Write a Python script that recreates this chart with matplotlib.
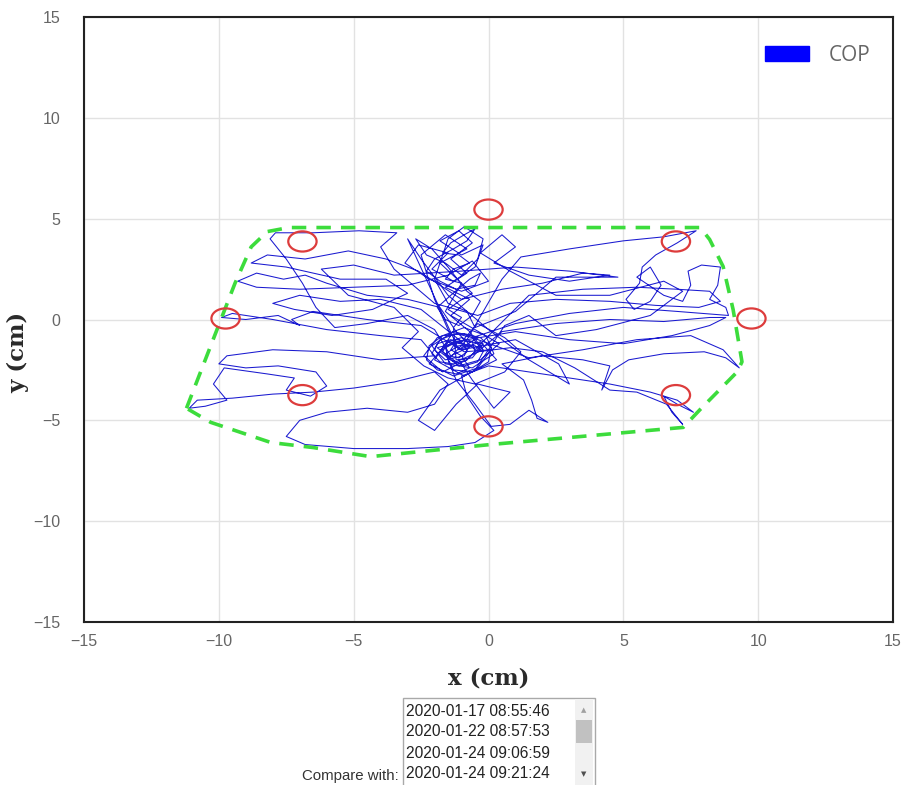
import matplotlib
matplotlib.use("Agg")
import matplotlib.pyplot as plt
from matplotlib.patches import Ellipse, Patch, Rectangle

# centre-of-pressure trace (cm)
cop_trace = [
    (-1.0, -1.4), (-0.4, -0.9), (-1.3, -0.6), (-2.1, -1.3), (-1.6, -2.2), (-0.6, -2.4), (0.2, -1.7), (-0.1, -0.8),
    (-0.9, -0.4), (-1.9, -0.9), (-2.4, -1.8), (-1.7, -2.6), (-0.8, -2.0), (-0.2, -1.2), (-1.2, -1.0), (-1.8, -1.6),
    (-1.1, -2.3), (-0.3, -2.0), (0.4, -1.2), (-0.5, -0.5),
    (-1.4, 0.2), (-0.7, 1.0), (-1.6, 1.6), (-0.8, 2.3), (-1.4, 3.0), (-0.6, 3.8), (-1.1, 4.4), (-1.8, 3.9),
    (-1.0, 3.2), (-0.2, 3.7), (-0.5, 2.6), (-1.3, 1.9), (-2.1, 2.5), (-1.5, 3.3), (-2.6, 3.7), (-3.1, 2.8),
    (-2.2, 2.0), (-1.0, 1.4), (0.0, 1.9), (-0.6, 2.9), (-1.5, 2.2),
    (-3.0, 1.7), (-5.0, 1.6), (-7.0, 1.5), (-8.6, 1.6), (-9.3, 1.9), (-8.6, 2.3), (-7.6, 2.0), (-6.8, 2.2),
    (-6.0, 1.8), (-4.5, 1.2), (-3.0, 1.0), (-1.8, 0.6),
    (-1.2, -0.6), (-0.5, -1.5), (0.3, -0.4), (1.5, 1.2), (3.5, 1.5), (5.5, 1.6), (7.0, 1.5), (8.2, 1.4),
    (8.6, 0.9), (7.8, 0.6), (6.2, 0.7), (4.5, 0.9), (2.5, 1.0), (0.8, 0.8), (-0.4, 0.2),
    (-2.0, 0.8), (-3.5, 2.5), (-4.0, 3.6), (-3.4, 4.3), (-4.8, 4.4), (-6.5, 4.3), (-7.9, 4.3), (-8.1, 4.0),
    (-7.5, 3.0), (-6.9, 1.8), (-6.4, 0.6), (-5.7, -0.4), (-4.5, -0.2), (-3.0, 0.2), (-2.0, -0.5),
    (-1.4, -1.8), (-0.6, -1.3), (-1.5, -1.1), (-2.2, -2.2), (-1.3, -2.8), (-0.4, -2.4), (0.1, -1.5), (-0.9, -1.6),
    (-2.5, -0.3), (-4.5, 0.0), (-6.5, 0.4), (-7.3, 0.0), (-7.0, -0.3), (-7.8, 0.2), (-9.0, 0.0), (-9.9, 0.1),
    (-9.5, 0.3), (-8.0, 0.0), (-6.0, -0.5), (-4.0, -0.8), (-2.5, -1.0),
    (-2.0, -1.8), (-4.0, -2.0), (-6.0, -1.6), (-8.0, -1.5), (-9.7, -1.8), (-10.0, -2.2), (-9.0, -2.4), (-7.8, -2.3),
    (-6.4, -2.6), (-6.0, -3.3), (-6.6, -3.8), (-7.5, -3.5), (-7.2, -2.9), (-8.2, -2.7), (-9.8, -2.4), (-10.2, -3.2),
    (-9.7, -4.0), (-10.5, -4.3), (-11.1, -4.4), (-10.8, -4.0), (-9.5, -3.9), (-8.0, -3.7), (-6.5, -3.6), (-5.0, -3.4),
    (-3.5, -3.1), (-2.0, -2.6),
    (-1.5, -3.2), (-2.0, -4.2), (-3.0, -4.6), (-4.5, -4.4), (-6.0, -4.6), (-7.0, -5.0), (-7.5, -5.8), (-6.8, -6.2),
    (-5.0, -6.4), (-3.0, -6.4), (-1.5, -6.3), (-0.5, -6.1), (0.2, -5.5), (-0.3, -4.8), (-0.8, -3.8), (-1.0, -2.8),
    (0.0, -2.3), (1.5, -2.6), (3.0, -2.9), (4.5, -3.2), (6.0, -3.6), (7.0, -4.0), (7.6, -4.6), (7.0, -4.2),
    (6.5, -3.8), (6.8, -4.6), (7.2, -5.2), (6.6, -4.2), (5.5, -3.6), (4.5, -3.5), (3.2, -2.4), (2.0, -1.6),
    (0.8, -1.4), (-0.4, -1.6),
    (0.5, -0.6), (2.5, -0.2), (4.5, 0.0), (6.5, -0.1), (8.2, 0.1), (8.8, 0.1), (8.2, -0.3), (6.8, -0.8),
    (5.0, -1.2), (3.0, -1.0), (1.0, -0.6), (-0.8, -1.0),
    (0.5, 2.0), (1.2, 3.1), (3.0, 3.5), (5.0, 3.9), (6.5, 4.1), (7.7, 4.4), (7.0, 3.8), (6.2, 3.2),
    (5.7, 2.6), (5.6, 1.8), (5.1, 1.0), (5.4, 0.5), (6.0, 0.9), (6.4, 1.7), (6.0, 2.6), (5.5, 2.1),
    (6.5, 1.2), (7.2, 0.9), (7.5, 1.7), (7.4, 2.4), (7.9, 2.7), (8.6, 2.6), (8.5, 1.7), (8.2, 1.0),
    (8.8, 0.6), (8.9, 0.2), (7.0, 0.4), (5.0, 0.6), (3.0, 0.3), (1.0, -0.2), (-0.6, -0.9),
    (1.5, -1.9), (3.5, -1.5), (5.5, -1.0), (7.5, -0.8), (8.7, -1.5), (9.3, -2.4), (8.8, -1.9), (8.0, -1.6),
    (6.5, -1.7), (5.2, -2.0), (4.6, -2.5), (4.2, -3.5), (4.5, -2.3), (3.5, -2.0), (2.0, -1.8), (0.5, -2.2),
    (1.3, -3.0), (1.6, -4.0), (1.8, -4.9), (2.2, -5.1), (1.5, -4.5), (0.8, -5.2), (0.1, -5.3), (-0.5, -4.2),
    (-1.2, -3.0), (-1.5, -2.0),
    (-0.8, -1.0), (-1.9, -1.4), (-1.2, -2.1), (-0.2, -1.5), (-0.7, -0.6), (-1.6, 0.4), (-1.0, 1.8), (-1.8, 2.8),
    (-0.8, 3.5), (-1.6, 4.2), (-2.5, 3.2), (-2.0, 1.0), (-1.4, -0.8), (-2.0, -2.0), (-0.9, -2.8), (0.3, -2.0),
    (-0.3, -1.1), (-1.1, -1.5),
    (-3.0, 4.0), (-2.5, 3.0), (-1.5, 1.2), (0.0, -0.5), (1.5, -2.0), (3.0, -3.2), (2.6, -2.2), (1.0, -1.0),
    (-1.0, -1.5), (-1.3, -1.2), (-1.6, -1.4), (-1.5, -1.8), (-1.1, -1.9), (-0.8, -1.6), (-0.9, -1.2), (-1.4, -1.0),
    (-1.9, -1.2), (-2.1, -1.7), (-1.8, -2.1), (-1.3, -2.2), (-0.8, -2.0), (-0.5, -1.6), (-0.6, -1.1), (-1.0, -0.9),
    (-1.5, -1.1), (-1.7, -1.6), (-1.4, -2.0), (-0.9, -2.3), (-0.4, -2.1), (-0.2, -1.6), (-0.5, -1.3), (-1.1, -1.3),
    (-1.6, -1.7), (-1.3, -2.5), (-0.6, -2.6), (0.0, -2.1), (0.1, -1.4), (-0.3, -0.9), (-0.9, -0.7), (-1.7, -0.8),
    (-2.2, -1.3), (-2.3, -2.0), (-1.9, -2.5), (-1.2, -2.7), (-0.7, -2.4), (-1.0, -1.8), (-1.4, -1.5), (-1.2, -1.1),
    (-0.7, -1.3), (-0.9, -1.8), (-1.6, -2.0), (-2.0, -1.5), (-1.8, -1.0), (-1.2, -0.7), (-0.6, -0.9), (-0.3, -1.4),
    (-0.6, -1.9), (-1.2, -2.0),
    (-1.3, -0.4), (-1.0, 0.1), (-1.5, 0.5), (-1.1, 0.9), (-0.6, 1.3), (-1.0, 1.8), (-1.6, 2.0), (-1.3, 2.5),
    (-0.7, 2.8), (-1.1, 3.2), (-1.7, 3.3), (-1.4, 3.8), (-0.9, 4.2), (-0.5, 4.5), (-0.8, 3.9), (-1.3, 3.5),
    (-2.0, 3.0), (-2.3, 2.4), (-1.8, 1.9), (-1.2, 1.5), (-0.5, 1.7), (-0.3, 2.3), (-0.7, 2.0), (-1.4, 1.2),
    (-1.9, 0.6), (-1.6, 0.0), (-1.1, -0.3), (-0.6, 0.2), (-0.3, 0.9), (-0.8, 1.4), (-1.5, 2.6), (-2.1, 3.5),
    (-2.7, 4.0), (-2.3, 3.2), (-1.6, 2.8), (-1.0, 2.2), (-0.4, 3.0), (-0.2, 4.0), (-0.9, 4.6), (-1.5, 4.0),
    (-2.0, 2.0), (-1.5, 0.8), (-0.8, 0.4), (-0.5, -0.4),
    (1.0, 0.4), (2.5, 2.1), (4.8, 2.1), (3.0, 2.4), (1.0, 2.6), (-1.0, 2.4), (-3.5, 2.2), (-5.0, 2.7),
    (-6.2, 2.5), (-5.2, 1.2), (-3.5, 0.6), (-2.6, -0.6), (-3.2, -1.4), (-2.4, -2.3), (-1.5, -2.9), (-0.5, -3.2),
    (0.6, -2.6), (1.2, -1.6), (0.6, -0.9), (-0.4, -0.2), (-1.0, -1.1),
    (-2.5, 0.5), (-4.0, 1.0), (-5.5, 0.9), (-7.0, 1.2), (-8.0, 0.8), (-7.2, 0.5), (-5.8, 0.2), (-4.3, 0.5),
    (-3.0, 1.3), (-3.8, 2.0), (-5.5, 2.0), (-7.5, 2.6), (-8.8, 2.8), (-8.2, 3.2), (-6.8, 3.0), (-5.2, 3.4),
    (-3.8, 3.0), (-2.6, 2.4), (-1.0, 1.0), (0.5, 1.5), (2.0, 1.8), (3.5, 2.3), (4.5, 2.2), (3.0, 1.9),
    (1.5, 2.2), (0.2, 2.8), (1.0, 3.6), (0.5, 4.2), (-0.3, 3.3), (0.8, 2.4), (2.5, 1.2), (4.5, 1.2),
    (6.5, 1.9), (7.2, 1.4), (6.0, 0.2), (4.0, -0.5), (2.5, -0.8), (1.5, 0.2), (0.6, -0.3), (-0.5, -2.5),
    (-1.8, -3.5), (-2.6, -5.0), (-2.0, -5.5), (-1.2, -4.2), (-0.4, -3.2), (0.8, -3.6), (0.2, -4.4), (-0.6, -3.0),
    (-1.1, -2.0),
]
cop_x = [p[0] for p in cop_trace]
cop_y = [p[1] for p in cop_trace]

# outline around the trace (green dashed)
hull_x = [-11.2, -9.4, -8.8, -8.2, -7.4, 7.85, 8.2, 8.7, 9.07, 9.4, 9.22, 7.85, 7.22, 0.07, -4.37, -6.5, -8.07, -10.3, -11.2]
hull_y = [-4.4, 1.8, 3.6, 4.36, 4.56, 4.56, 3.97, 2.63, 0.5, -2.1, -2.6, -4.46, -5.35, -6.2, -6.8, -6.35, -6.1, -5.1, -4.4]

# red target rings
target_x = [0, 6.95, 9.75, 6.95, 0, -6.9, -9.75, -6.9]
target_y = [5.45, 3.87, 0.05, -3.75, -5.3, -3.75, 0.05, 3.87]

ticks = [-15, -10, -5, 0, 5, 10, 15]
sessions = ["2020-01-17 08:55:46", "2020-01-22 08:57:53", "2020-01-24 09:06:59", "2020-01-24 09:21:24"]

tick_font = ["Liberation Sans", "DejaVu Sans"]

fig = plt.figure(figsize=(9.02, 7.85), dpi=100)
ax = fig.add_axes([84 / 902, 163 / 785, 809 / 902, 605 / 785])

ax.plot(cop_x, cop_y, color="#1a1ad0", lw=0.75, zorder=3)
ax.plot(hull_x, hull_y, color="#3cdc3c", lw=2.6, linestyle=(0, (4, 2.8)), zorder=4)
for tx, ty in zip(target_x, target_y):
    ax.add_patch(Ellipse((tx, ty), 1.05, 1.0, fill=False, edgecolor="#dd3c3c", lw=1.6, zorder=5))

ax.set_xlim(-15, 15)
ax.set_ylim(-15, 15)
ax.set_xticks(ticks)
ax.set_yticks(ticks)
ax.set_xticklabels(["\u2212%d" % -t if t < 0 else str(t) for t in ticks], family=tick_font)
ax.set_yticklabels(["\u2212%d" % -t if t < 0 else str(t) for t in ticks], family=tick_font)
ax.tick_params(length=0, labelsize=11.5, labelcolor="#666666")
ax.tick_params(axis="y", pad=17)
ax.tick_params(axis="x", pad=9)
ax.grid(True, color="#e2e2e2", lw=1)
ax.set_axisbelow(True)
for s in ax.spines.values():
    s.set_linewidth(1.5)
    s.set_color("#222222")

ax.set_xlabel("x (cm)", family="DejaVu Serif", fontsize=16.5, fontweight="bold", color="#2a2a2a")
ax.set_ylabel("y (cm)", family="DejaVu Serif", fontsize=16.5, fontweight="bold", color="#2a2a2a")
ax.xaxis.set_label_coords(0.5, -0.075)
ax.yaxis.set_label_coords(-0.068, 0.445)

ax.legend(handles=[Patch(facecolor="#0000ff", edgecolor="#0000ff", label="COP")],
          loc="upper right", bbox_to_anchor=(0.995, 0.985), frameon=False,
          prop={"family": "Open Sans", "size": 15}, labelcolor="#666666",
          handlelength=2.1, handleheight=0.7, handletextpad=0.95)

# session picker below the chart (pixel coordinates)
ui = fig.add_axes([0, 0, 1, 1], zorder=-1)
ui.set_xlim(0, 902)
ui.set_ylim(785, 0)
ui.axis("off")
ui.add_patch(Rectangle((403, 698), 192, 90, facecolor="white", edgecolor="#a9a9a9", lw=1))
ui.add_patch(Rectangle((575, 699), 18, 88, facecolor="#f1f1f1", edgecolor="none"))
ui.add_patch(Rectangle((576, 720), 16, 23, facecolor="#c1c1c1", edgecolor="none"))
ui.text(584, 710, "\u25b2", fontsize=5, color="#a0a0a0", ha="center", va="center")
ui.text(584, 774, "\u25bc", fontsize=5, color="#505050", ha="center", va="center")
for i, s in enumerate(sessions):
    ui.text(406, 711 + 21 * i, s, family="Liberation Sans", fontsize=11.2, color="#222222", va="center")
ui.text(399, 776, "Compare with:", family="Liberation Sans", fontsize=10.8, color="#333333", ha="right", va="center")

fig.savefig("out.png", dpi=100)
